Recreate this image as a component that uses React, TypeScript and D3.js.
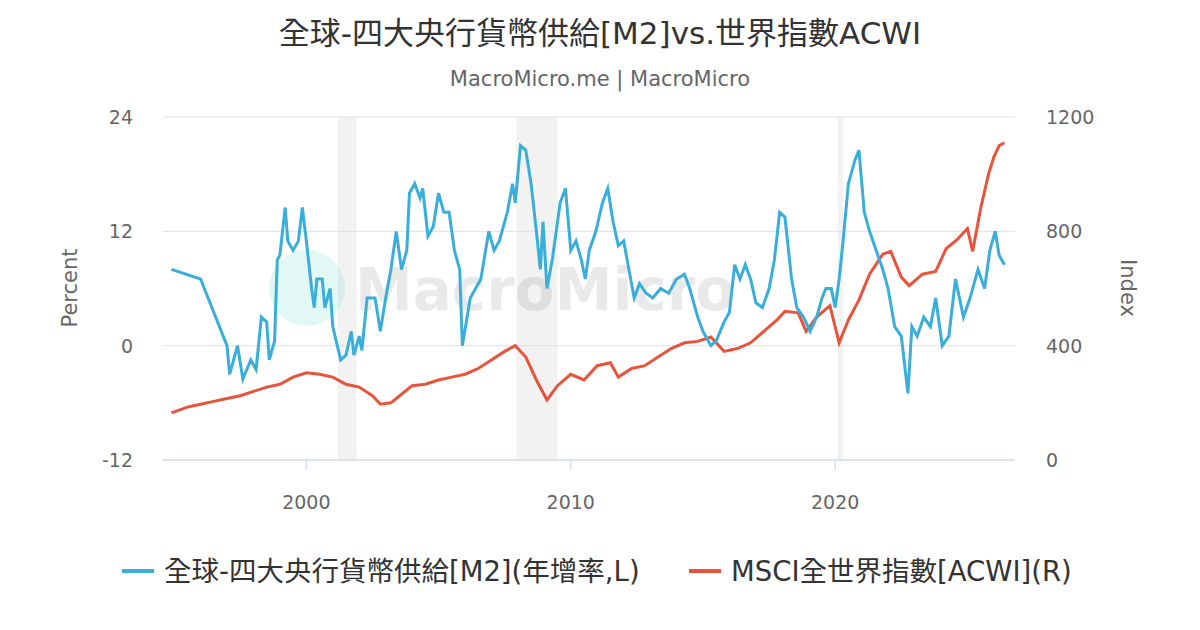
import React from 'react';
import * as d3 from 'd3';

const m2Years = [1994.9,1996.0,1997.0,1997.1,1997.4,1997.6,1997.9,1998.1,1998.3,1998.5,1998.6,1998.8,1998.9,1999.0,1999.2,1999.3,1999.5,1999.7,1999.85,2000.0,2000.2,2000.3,2000.4,2000.6,2000.7,2000.9,2001.0,2001.3,2001.5,2001.7,2001.8,2002.0,2002.1,2002.3,2002.6,2002.8,2003.0,2003.2,2003.4,2003.6,2003.8,2003.9,2004.1,2004.3,2004.4,2004.6,2004.8,2005.0,2005.2,2005.4,2005.6,2005.8,2005.9,2006.2,2006.6,2006.9,2007.1,2007.3,2007.6,2007.8,2007.9,2008.1,2008.3,2008.5,2008.7,2008.85,2008.95,2009.1,2009.3,2009.45,2009.6,2009.8,2010.0,2010.2,2010.4,2010.55,2010.7,2010.95,2011.2,2011.4,2011.6,2011.8,2012.0,2012.2,2012.4,2012.6,2012.85,2013.1,2013.4,2013.7,2014.0,2014.3,2014.5,2014.8,2015.0,2015.3,2015.5,2015.8,2016.0,2016.2,2016.4,2016.6,2016.8,2017.0,2017.25,2017.5,2017.7,2017.9,2018.1,2018.35,2018.55,2018.8,2019.05,2019.3,2019.5,2019.65,2019.85,2020.0,2020.15,2020.3,2020.5,2020.75,2020.9,2021.1,2021.3,2021.55,2021.8,2022.0,2022.25,2022.5,2022.75,2022.9,2023.1,2023.35,2023.6,2023.8,2024.05,2024.3,2024.55,2024.85,2025.1,2025.4,2025.65,2025.85,2026.05,2026.2,2026.4];
const m2Values = [8,7,0,-3,0,-3.5,-1.5,-2.5,3,2.5,-1.5,0.5,9,9.5,14.5,11,10,11,14.5,11,6,4,7,7,4,6,2,-1.5,-1,1.5,-1,1,-0.5,5,5,1.5,5,8,12,8,10,16,17,15.5,16.5,11.5,12.5,16,14,14,10,8,0,5,7,12,10,11,14,17,15,21,20.5,17,12,8,13,6,9,12,15,16.5,10,11,9,7,10,12,15,16.5,13,10.5,11,8,5,6.5,5.5,5,6,5.5,7,7.5,6,3,1.5,0,0.5,2.5,3.5,8.5,7,8.5,7,4.5,4,6,9,14,13.5,7,4,3,1.5,3,5,6,6,4,7,11,17,19.5,20.5,14,12,10,8,6,2,1,-5,2,1,3,2,5,0,1,7,3,5,8,6,10,12,9.5,8.5];

const acwiYears = [1994.9,1995.5,1996.0,1996.5,1997.0,1997.5,1998.0,1998.5,1999.0,1999.5,2000.0,2000.5,2001.0,2001.5,2002.0,2002.5,2002.8,2003.2,2003.6,2004.0,2004.5,2005.0,2005.5,2006.0,2006.5,2007.0,2007.5,2007.9,2008.3,2008.7,2009.1,2009.5,2010.0,2010.5,2011.0,2011.5,2011.8,2012.3,2012.8,2013.3,2013.8,2014.3,2014.8,2015.3,2015.8,2016.3,2016.8,2017.3,2017.8,2018.1,2018.6,2018.9,2019.3,2019.8,2020.15,2020.5,2020.9,2021.3,2021.8,2022.1,2022.5,2022.8,2023.3,2023.8,2024.2,2024.6,2025.0,2025.2,2025.5,2025.8,2026.0,2026.2,2026.4];
const acwiValues = [165,185,195,205,215,225,240,255,265,290,305,300,290,265,255,225,195,200,230,260,265,280,290,300,320,350,380,400,360,280,210,260,300,280,330,340,290,320,330,360,390,410,415,430,380,390,410,450,490,520,515,450,500,540,410,490,560,650,720,730,640,610,650,660,740,770,810,730,880,1000,1060,1100,1110];

const recessions = [[2001.2, 2001.9], [2007.95, 2009.5], [2020.1, 2020.3]];
const leftTicks = [-12, 0, 12, 24];
const rightTicks = [0, 400, 800, 1200];
const yearTicks = [2000, 2010, 2020];

const BLUE = '#3aaedb';
const RED = '#e8533b';
const FONT = '"DejaVu Sans", "Noto Sans CJK TC", sans-serif';

export default function App() {
  const W = 1200, H = 630;
  const x0 = 163, x1 = 1015, yTop = 117, yBot = 460;
  const x = d3.scaleLinear().domain([1994.58, 2026.8]).range([x0, x1]);
  const yL = d3.scaleLinear().domain([-12, 24]).range([yBot, yTop]);
  const yR = d3.scaleLinear().domain([0, 1200]).range([yBot, yTop]);
  const m2Line = d3.line<number>().x((d, i) => x(m2Years[i])).y(d => yL(d));
  const acwiLine = d3.line<number>().x((d, i) => x(acwiYears[i])).y(d => yR(d));

  return (
    <svg width={W} height={H} style={{ position: 'absolute', left: 0, top: 0, background: '#fff' }} fontFamily={FONT}>
      <text x={600} y={44} textAnchor="middle" fontSize={31} fill="#333">全球-四大央行貨幣供給[M2]vs.世界指數ACWI</text>
      <text x={600} y={86} textAnchor="middle" fontSize={21} fill="#666">MacroMicro.me | MacroMicro</text>
      {recessions.map(([a, b], i) => (
        <rect key={i} x={x(a)} y={yTop} width={x(b) - x(a)} height={yBot - yTop} fill="#f2f2f2" />
      ))}
      {leftTicks.map(t => (
        <g key={t}>
          <line x1={x0} x2={x1} y1={yL(t)} y2={yL(t)} stroke="#e0e0e0" />
          <text x={133} y={yL(t) + 7} textAnchor="end" fontSize={19} fill="#666">{t}</text>
        </g>
      ))}
      {rightTicks.map(t => (
        <text key={t} x={1046} y={yR(t) + 7} fontSize={19} fill="#666">{t}</text>
      ))}
      <line x1={x0} x2={x1} y1={yBot} y2={yBot} stroke="#ccd6eb" />
      {yearTicks.map(t => (
        <g key={t}>
          <line x1={x(t)} x2={x(t)} y1={yBot} y2={yBot + 10} stroke="#ccd6eb" />
          <text x={x(t)} y={509} textAnchor="middle" fontSize={19} fill="#666">{t}</text>
        </g>
      ))}
      <text transform="translate(77,288) rotate(-90)" textAnchor="middle" fontSize={21} fill="#666">Percent</text>
      <text transform="translate(1121,288) rotate(90)" textAnchor="middle" fontSize={21} fill="#666">Index</text>
      <g opacity={0.12}>
        <circle cx={307} cy={288} r={38} fill="#1cc7a8" />
        <text x={355} y={310} fontSize={58} fontWeight="bold" fill="#555">MacroMicro</text>
      </g>
      <path d={acwiLine(acwiValues) || ''} fill="none" stroke={RED} strokeWidth={3} />
      <path d={m2Line(m2Values) || ''} fill="none" stroke={BLUE} strokeWidth={3} />
      <line x1={122} x2={154} y1={571} y2={571} stroke={BLUE} strokeWidth={4} />
      <text x={164} y={581} fontSize={27.5} fill="#333">全球-四大央行貨幣供給[M2](年增率,L)</text>
      <line x1={689} x2={721} y1={571} y2={571} stroke={RED} strokeWidth={4} />
      <text x={731} y={581} fontSize={27.5} fill="#333">MSCI全世界指數[ACWI](R)</text>
    </svg>
  );
}
